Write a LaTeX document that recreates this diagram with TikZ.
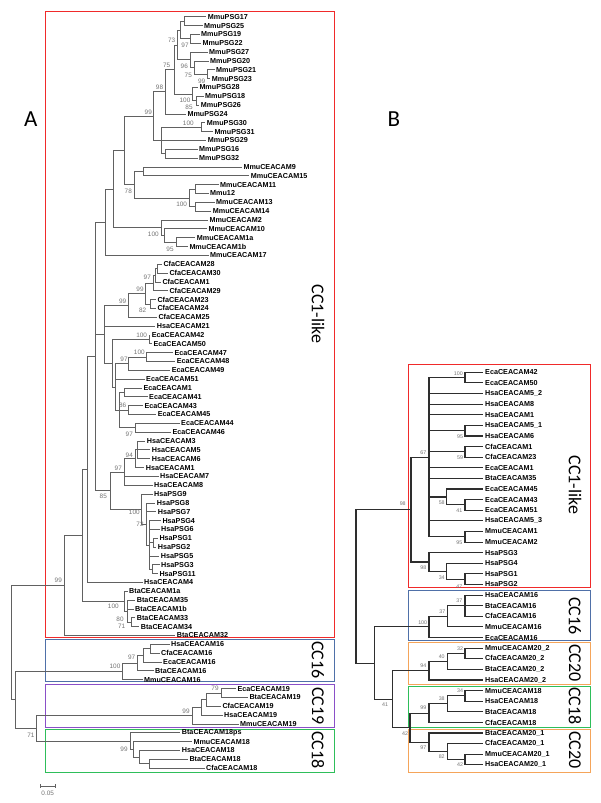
\documentclass[tikz,border=0pt]{standalone}
\usepackage{fontspec}
\setmainfont{Liberation Sans}
\newfontfamily\carl{Carlito}
\usetikzlibrary{calc}
\definecolor{bxred}{HTML}{F02A2A}
\definecolor{bxblue}{HTML}{4F70A8}
\definecolor{bxpurple}{HTML}{8A4FC8}
\definecolor{bxgreen}{HTML}{2EBE5A}
\definecolor{bxorange}{HTML}{F5A55A}
\tikzset{
  lfA/.style={anchor=west,inner xsep=1.5pt,inner ysep=0pt,font=\fontsize{7.2}{8}\selectfont\bfseries},
  lfB/.style={anchor=west,inner xsep=2pt,inner ysep=0pt,font=\fontsize{7.2}{8}\selectfont\bfseries},
  brA/.style={draw=black!62,line width=0.75pt},
  brB/.style={draw=black!82,line width=1.1pt},
  bsA/.style={inner sep=0pt,text=black!55,font=\fontsize{6.4}{7}\selectfont},
  bsB/.style={inner sep=0pt,text=black!55,font=\fontsize{5.3}{6}\selectfont},
  boxA/.style={line width=1pt},
  cclab/.style={rotate=-90,inner sep=0pt,font=\carl\fontsize{18}{20}\selectfont},
  panel/.style={inner sep=0pt,font=\carl\fontsize{23}{25}\selectfont}
}
\newcommand\lfa[4]{\node[lfA] (#1) at ({#3-1.5},{16.7+(#2-1)*8.84}) {#4};}
\newcommand\lfb[3]{\node[lfB] (#1) at (483,{372.3+(#2-1)*10.61}) {#3};}
\newcommand\inod[4]{\path let \p1=($(#3)!.5!(#4)$) in (#2pt,\y1) coordinate (#1);}
\newcommand\kida[2]{\foreach \q in {#2}{\draw[brA] (#1) |- (\q);}}
\newcommand\kidb[2]{\foreach \q in {#2}{\draw[brB] (#1) |- (\q);}}
\begin{document}
\begin{tikzpicture}[x=1pt,y=-1pt]
\useasboundingbox (0,0) rectangle (600,803);
% panel letters
\node[panel] (pA) at (30.8,119) {A};
\node[panel] (pB) at (394,119) {B};
% boxes A
\draw[boxA,bxred] (45.7,11.7) rectangle (334.3,637.3);
\draw[boxA,bxblue] (45.7,639) rectangle (334.3,681.7);
\draw[boxA,bxpurple] (45.7,684.3) rectangle (334.3,727.3);
\draw[boxA,bxgreen] (45.7,729.3) rectangle (334.3,772.3);
% boxes B
\draw[boxA,bxred] (408.3,364.3) rectangle (590,587.3);
\draw[boxA,bxblue] (408.3,590) rectangle (590,640.7);
\draw[boxA,bxorange] (408.3,642.7) rectangle (590,684);
\draw[boxA,bxgreen] (408.3,686.7) rectangle (590,727.3);
\draw[boxA,bxorange] (408.3,729) rectangle (590,772.7);
% clade labels
\node[cclab] (ccA1) at (318,314) {CC1-like};
\node[cclab] (ccA2) at (318,660) {CC16};
\node[cclab] (ccA3) at (318,706) {CC19};
\node[cclab] (ccA4) at (318,750) {CC18};
\node[cclab] (ccB1) at (575,485) {CC1-like};
\node[cclab] (ccB2) at (575,616) {CC16};
\node[cclab] (ccB3) at (575,663) {CC20};
\node[cclab] (ccB4) at (575,706) {CC18};
\node[cclab] (ccB5) at (575,750) {CC20};
% ---------- tree A leaves
\lfa{L1}{1}{207.7}{MmuPSG17}
\lfa{L2}{2}{204}{MmuPSG25}
\lfa{L3}{3}{201}{MmuPSG19}
\lfa{L4}{4}{202.3}{MmuPSG22}
\lfa{L5}{5}{209}{MmuPSG27}
\lfa{L6}{6}{210}{MmuPSG20}
\lfa{L7}{7}{216}{MmuPSG21}
\lfa{L8}{8}{211.7}{MmuPSG23}
\lfa{L9}{9}{199.3}{MmuPSG28}
\lfa{L10}{10}{205}{MmuPSG18}
\lfa{L11}{11}{200.7}{MmuPSG26}
\lfa{L12}{12}{187.3}{MmuPSG24}
\lfa{L13}{13}{206.7}{MmuPSG30}
\lfa{L14}{14}{214.3}{MmuPSG31}
\lfa{L15}{15}{207.7}{MmuPSG29}
\lfa{L16}{16}{199}{MmuPSG16}
\lfa{L17}{17}{199}{MmuPSG32}
\lfa{L18}{18}{243.3}{MmuCEACAM9}
\lfa{L19}{19}{250.7}{MmuCEACAM15}
\lfa{L20}{20}{220}{MmuCEACAM11}
\lfa{L21}{21}{210}{Mmu12}
\lfa{L22}{22}{216}{MmuCEACAM13}
\lfa{L23}{23}{212.7}{MmuCEACAM14}
\lfa{L24}{24}{209.3}{MmuCEACAM2}
\lfa{L25}{25}{208.3}{MmuCEACAM10}
\lfa{L26}{26}{196.7}{MmuCEACAM1a}
\lfa{L27}{27}{189.3}{MmuCEACAM1b}
\lfa{L28}{28}{210}{MmuCEACAM17}
\lfa{L29}{29}{163.3}{CfaCEACAM28}
\lfa{L30}{30}{169.3}{CfaCEACAM30}
\lfa{L31}{31}{162.3}{CfaCEACAM1}
\lfa{L32}{32}{169.3}{CfaCEACAM29}
\lfa{L33}{33}{157.3}{CfaCEACAM23}
\lfa{L34}{34}{157.3}{CfaCEACAM24}
\lfa{L35}{35}{158.3}{CfaCEACAM25}
\lfa{L36}{36}{156.7}{HsaCEACAM21}
\lfa{L37}{37}{151.7}{EcaCEACAM42}
\lfa{L38}{38}{153.3}{EcaCEACAM50}
\lfa{L39}{39}{174.3}{EcaCEACAM47}
\lfa{L40}{40}{176.7}{EcaCEACAM48}
\lfa{L41}{41}{171.7}{EcaCEACAM49}
\lfa{L42}{42}{146}{EcaCEACAM51}
\lfa{L43}{43}{143.3}{EcaCEACAM1}
\lfa{L44}{44}{149}{EcaCEACAM41}
\lfa{L45}{45}{144.3}{EcaCEACAM43}
\lfa{L46}{46}{157.7}{EcaCEACAM45}
\lfa{L47}{47}{181}{EcaCEACAM44}
\lfa{L48}{48}{172.3}{EcaCEACAM46}
\lfa{L49}{49}{146.7}{HsaCEACAM3}
\lfa{L50}{50}{151.7}{HsaCEACAM5}
\lfa{L51}{51}{151.7}{HsaCEACAM6}
\lfa{L52}{52}{145.7}{HsaCEACAM1}
\lfa{L53}{53}{160}{HsaCEACAM7}
\lfa{L54}{54}{154}{HsaCEACAM8}
\lfa{L55}{55}{154}{HsaPSG9}
\lfa{L56}{56}{156.7}{HsaPSG8}
\lfa{L57}{57}{157.7}{HsaPSG7}
\lfa{L58}{58}{162.3}{HsaPSG4}
\lfa{L59}{59}{161}{HsaPSG6}
\lfa{L60}{60}{159.3}{HsaPSG1}
\lfa{L61}{61}{157.7}{HsaPSG2}
\lfa{L62}{62}{160.7}{HsaPSG5}
\lfa{L63}{63}{161}{HsaPSG3}
\lfa{L64}{64}{159.3}{HsaPSG11}
\lfa{L65}{65}{144}{HsaCEACAM4}
\lfa{L66}{66}{129}{BtaCEACAM1a}
\lfa{L67}{67}{136.7}{BtaCEACAM35}
\lfa{L68}{68}{135}{BtaCEACAM1b}
\lfa{L69}{69}{136.7}{BtaCEACAM33}
\lfa{L70}{70}{140.7}{BtaCEACAM34}
\lfa{L71}{71}{176.7}{BtaCEACAM32}
\lfa{L72}{72}{171}{HsaCEACAM16}
\lfa{L73}{73}{161}{CfaCEACAM16}
\lfa{L74}{74}{163}{EcaCEACAM16}
\lfa{L75}{75}{155}{BtaCEACAM16}
\lfa{L76}{76}{144}{MmuCEACAM16}
\lfa{L77}{77}{237.3}{EcaCEACAM19}
\lfa{L78}{78}{249.3}{BtaCEACAM19}
\lfa{L79}{79}{222.3}{CfaCEACAM19}
\lfa{L80}{80}{224}{HsaCEACAM19}
\lfa{L81}{81}{240}{MmuCEACAM19}
\lfa{L82}{82}{181.7}{BtaCEACAM18ps}
\lfa{L83}{83}{193.3}{MmuCEACAM18}
\lfa{L84}{84}{181.7}{HsaCEACAM18}
\lfa{L85}{85}{189.3}{BtaCEACAM18}
\lfa{L86}{86}{206}{CfaCEACAM18}
% ---------- tree A internal nodes
\inod{a}{184.3}{L1}{L2}\kida{a}{L1,L2}
\inod{b}{190}{L3}{L4}\kida{b}{L3,L4}
\inod{c}{180}{a}{b}\kida{c}{a,b}
\inod{f}{207.3}{L7}{L8}\kida{f}{L7,L8}
\inod{e}{194.3}{L6}{f}\kida{e}{L6,f}
\inod{d}{190}{L5}{e}\kida{d}{L5,e}
\inod{g}{177}{c}{d}\kida{g}{c,d}
\inod{q}{196.7}{L10}{L11}\kida{q}{L10,L11}
\inod{p28}{192.3}{L9}{q}\kida{p28}{L9,q}
\inod{h}{174.3}{g}{p28}\kida{h}{g,p28}
\inod{i}{165.7}{h}{L12}\kida{i}{h,L12}
\inod{m}{201.7}{L13}{L14}\kida{m}{L13,L14}
\inod{n16}{165.7}{L16}{L17}\kida{n16}{L16,L17}
\inod{k}{161}{m}{n16}\kida{k}{m,L15,n16}
\inod{j}{153.3}{i}{k}\kida{j}{i,k}
\inod{n9}{143.3}{L18}{L19}\kida{n9}{L18,L19}
\inod{n11}{195}{L20}{L21}\kida{n11}{L20,L21}
\inod{n13}{195}{L22}{L23}\kida{n13}{L22,L23}
\inod{n11g}{189}{n11}{n13}\kida{n11g}{n11,n13}
\inod{n78}{134}{n9}{n11g}\kida{n78}{n9,n11g}
\inod{x124}{124}{j}{n78}\kida{x124}{j,n78}
\inod{n1a}{176.7}{L26}{L27}\kida{n1a}{L26,L27}
\inod{n10}{164.3}{L25}{n1a}\kida{n10}{L25,n1a}
\inod{n2}{161}{L24}{n10}\kida{n2}{L24,n10}
\inod{x113}{113.3}{x124}{n2}\kida{x113}{x124,n2}
\inod{Mmu}{105}{x113}{L28}\kida{Mmu}{x113,L28}
\inod{c28a}{157.3}{L29}{L30}\kida{c28a}{L29,L30}
\inod{c28}{155.7}{c28a}{L31}\kida{c28}{c28a,L31}
\inod{c29}{153.3}{c28}{L32}\kida{c29}{c28,L32}
\inod{c23}{150}{L33}{L34}\kida{c23}{L33,L34}
\inod{c145}{145}{c29}{c23}\kida{c145}{c29,c23}
\inod{Cfa}{128.3}{c145}{L35}\kida{Cfa}{c145,L35}
\inod{e42}{149.3}{L37}{L38}\kida{e42}{L37,L38}
\inod{e47}{146.7}{L39}{L40}\kida{e47}{L39,L40}
\inod{e49}{128.3}{e47}{L41}\kida{e49}{e47,L41}
\inod{e1}{124}{L43}{L44}\kida{e1}{L43,L44}
\inod{e43}{128.3}{L45}{L46}\kida{e43}{L45,L46}
\inod{e44}{135}{L47}{L48}\kida{e44}{L47,L48}
\inod{e119}{119}{e1}{e44}\kida{e119}{e1,e43,e44}
\inod{e51}{115}{e49}{e119}\kida{e51}{e49,L42,e119}
\inod{E}{112.3}{e42}{e51}\kida{E}{e42,e51}
\inod{X}{104}{Cfa}{E}\kida{X}{Cfa,L36,E}
\inod{h35}{137.7}{L49}{L51}\kida{h35}{L49,L50,L51}
\inod{h94}{135.7}{h35}{L52}\kida{h94}{h35,L52}
\inod{h97}{124}{h94}{L54}\kida{h97}{h94,L53,L54}
\inod{p12}{153.3}{L60}{L61}\kida{p12}{L60,L61}
\inod{p311}{152.3}{L63}{L64}\kida{p311}{L63,L64}
\inod{prest}{149.3}{L58}{p311}\kida{prest}{L58,L59,p12,L62,p311}
\inod{p72}{146.7}{L56}{prest}\kida{p72}{L56,L57,prest}
\inod{p100}{141.7}{L55}{p72}\kida{p100}{L55,p72}
\inod{hH}{110}{h97}{p100}\kida{hH}{h97,p100}
\inod{N95}{95.7}{Mmu}{hH}\kida{N95}{Mmu,X,hH}
\inod{n87}{87.3}{N95}{L65}\kida{n87}{N95,L65}
\inod{b3334}{131.7}{L69}{L70}\kida{b3334}{L69,L70}
\inod{b35}{127.3}{L67}{b3334}\kida{b35}{L67,L68,b3334}
\inod{Bta}{124}{L66}{b35}\kida{Bta}{L66,b35}
\inod{n82}{82.3}{n87}{Bta}\kida{n82}{n87,Bta}
\inod{n64}{64}{n82}{L71}\kida{n64}{n82,L71}
\inod{s1}{150}{L72}{L73}\kida{s1}{L72,L73}
\inod{s2}{143.3}{s1}{L74}\kida{s2}{s1,L74}
\inod{s3}{137.7}{s2}{L75}\kida{s3}{s2,L75}
\inod{CCa}{122.3}{s3}{L76}\kida{CCa}{s3,L76}
\inod{t1}{221.7}{L77}{L78}\kida{t1}{L77,L78}
\inod{t2}{206.7}{t1}{L79}\kida{t2}{t1,L79}
\inod{t3}{201.7}{t2}{L80}\kida{t3}{t2,L80}
\inod{CCb}{192.3}{t3}{L81}\kida{CCb}{t3,L81}
\inod{u1}{149.3}{L85}{L86}\kida{u1}{L85,L86}
\inod{u2}{139.3}{L84}{u1}\kida{u2}{L84,u1}
\inod{u3}{133.3}{L83}{u2}\kida{u3}{L83,u2}
\inod{CCc}{130.7}{L82}{u3}\kida{CCc}{L82,u3}
\inod{R3}{36.7}{CCb}{CCc}\kida{R3}{CCb,CCc}
\inod{R2}{15.7}{CCa}{R3}\kida{R2}{CCa,R3}
\inod{rA}{11.7}{n64}{R2}\kida{rA}{n64,R2}
% ---------- tree A bootstrap values
\node[bsA] (ba1) at (171.7,40.3) {73};
\node[bsA] (ba2) at (185,45.3) {97};
\node[bsA] (ba3) at (184.3,66.7) {96};
\node[bsA] (ba4) at (188.3,75) {75};
\node[bsA] (ba5) at (201.7,81) {99};
\node[bsA] (ba6) at (166.7,65.3) {75};
\node[bsA] (ba7) at (159.5,87) {98};
\node[bsA] (ba8) at (185,100) {100};
\node[bsA] (ba9) at (189,107.3) {85};
\node[bsA] (ba10) at (148.3,112.3) {99};
\node[bsA] (ba11) at (188.3,123) {100};
\node[bsA] (ba12) at (128.3,191) {78};
\node[bsA] (ba13) at (181.7,204.3) {100};
\node[bsA] (ba14) at (153.3,234.3) {100};
\node[bsA] (ba15) at (170,249) {95};
\node[bsA] (ba16) at (147.3,277.7) {97};
\node[bsA] (ba17) at (140,289.3) {99};
\node[bsA] (ba18) at (122.7,301) {99};
\node[bsA] (ba19) at (142.7,310.7) {82};
\node[bsA] (ba20) at (141.7,335.3) {100};
\node[bsA] (ba21) at (139.3,352.7) {100};
\node[bsA] (ba22) at (124,359) {97};
\node[bsA] (ba23) at (122.7,405.7) {86};
\node[bsA] (ba24) at (129.3,434.3) {97};
\node[bsA] (ba25) at (129.3,455) {94};
\node[bsA] (ba26) at (118.3,468.3) {97};
\node[bsA] (ba27) at (103.3,496) {85};
\node[bsA] (ba28) at (134.3,512.3) {100};
\node[bsA] (ba29) at (140,524) {72};
\node[bsA] (ba30) at (58.3,580) {99};
\node[bsA] (ba31) at (113.3,606) {100};
\node[bsA] (ba32) at (120,619.3) {80};
\node[bsA] (ba33) at (121.7,626.7) {71};
\node[bsA] (ba34) at (131.7,657.3) {97};
\node[bsA] (ba35) at (115,666.7) {100};
\node[bsA] (ba36) at (215,688.3) {79};
\node[bsA] (ba37) at (186,711) {99};
\node[bsA] (ba38) at (31,735) {71};
\node[bsA] (ba39) at (124,749.3) {99};
% scale bar
\coordinate (sbL) at (40,786);
\coordinate (sbR) at (55,786);
\draw[brA] (sbL) -- (sbR);
\draw[brA] ($(sbL)+(0,-1.8)$) -- ($(sbL)+(0,1.8)$);
\draw[brA] ($(sbR)+(0,-1.8)$) -- ($(sbR)+(0,1.8)$);
\node[bsA] (sbT) at (47.7,793.5) {0.05};
% ---------- tree B leaves
\lfb{M1}{1}{EcaCEACAM42}
\lfb{M2}{2}{EcaCEACAM50}
\lfb{M3}{3}{HsaCEACAM5\_2}
\lfb{M4}{4}{HsaCEACAM8}
\lfb{M5}{5}{HsaCEACAM1}
\lfb{M6}{6}{HsaCEACAM5\_1}
\lfb{M7}{7}{HsaCEACAM6}
\lfb{M8}{8}{CfaCEACAM1}
\lfb{M9}{9}{CfaCEACAM23}
\lfb{M10}{10}{EcaCEACAM1}
\lfb{M11}{11}{BtaCEACAM35}
\lfb{M12}{12}{EcaCEACAM45}
\lfb{M13}{13}{EcaCEACAM43}
\lfb{M14}{14}{EcaCEACAM51}
\lfb{M15}{15}{HsaCEACAM5\_3}
\lfb{M16}{16}{MmuCEACAM1}
\lfb{M17}{17}{MmuCEACAM2}
\lfb{M18}{18}{HsaPSG3}
\lfb{M19}{19}{HsaPSG4}
\lfb{M20}{20}{HsaPSG1}
\lfb{M21}{21}{HsaPSG2}
\lfb{M22}{22}{HsaCEACAM16}
\lfb{M23}{23}{BtaCEACAM16}
\lfb{M24}{24}{CfaCEACAM16}
\lfb{M25}{25}{MmuCEACAM16}
\lfb{M26}{26}{EcaCEACAM16}
\lfb{M27}{27}{MmuCEACAM20\_2}
\lfb{M28}{28}{CfaCEACAM20\_2}
\lfb{M29}{29}{BtaCEACAM20\_2}
\lfb{M30}{30}{HsaCEACAM20\_2}
\lfb{M31}{31}{MmuCEACAM18}
\lfb{M32}{32}{HsaCEACAM18}
\lfb{M33}{33}{BtaCEACAM18}
\lfb{M34}{34}{CfaCEACAM18}
\lfb{M35}{35}{BtaCEACAM20\_1}
\lfb{M36}{36}{CfaCEACAM20\_1}
\lfb{M37}{37}{MmuCEACAM20\_1}
\lfb{M38}{38}{HsaCEACAM20\_1}
% ---------- tree B internal nodes
\inod{v42}{465}{M1}{M2}\kidb{v42}{M1,M2}
\inod{v51}{465}{M6}{M7}\kidb{v51}{M6,M7}
\inod{vCfa}{465}{M8}{M9}\kidb{vCfa}{M8,M9}
\inod{v43}{465}{M13}{M14}\kidb{v43}{M13,M14}
\inod{v45}{446.7}{M12}{v43}\kidb{v45}{M12,v43}
\inod{vMmu}{465}{M16}{M17}\kidb{vMmu}{M16,M17}
\inod{vMain}{429}{v42}{vMmu}\kidb{vMain}{v42,M3,M4,M5,v51,vCfa,M10,M11,v45,M15,vMmu}
\inod{v12}{465}{M20}{M21}\kidb{v12}{M20,M21}
\inod{v34}{446.7}{M19}{v12}\kidb{v34}{M19,v12}
\inod{vPSG}{429}{M18}{v34}\kidb{vPSG}{M18,v34}
\inod{vCC1}{411}{vMain}{vPSG}\kidb{vCC1}{vMain,vPSG}
\inod{w37b}{465}{M22}{M24}\kidb{w37b}{M22,M23,M24}
\inod{w37}{447.3}{w37b}{M25}\kidb{w37}{w37b,M25}
\inod{wCC16}{429}{w37}{M26}\kidb{wCC16}{w37,M26}
\inod{w32}{465}{M27}{M28}\kidb{w32}{M27,M28}
\inod{w40}{447.3}{w32}{M29}\kidb{w40}{w32,M29}
\inod{w94}{429}{w40}{M30}\kidb{w94}{w40,M30}
\inod{w34}{465}{M31}{M32}\kidb{w34}{M31,M32}
\inod{w38}{447.3}{w34}{M33}\kidb{w38}{w34,M33}
\inod{w99}{429}{w38}{M34}\kidb{w99}{w38,M34}
\inod{w42}{465}{M37}{M38}\kidb{w42}{M37,M38}
\inod{w82}{447.3}{M36}{w42}\kidb{w82}{M36,w42}
\inod{w97}{429}{M35}{w82}\kidb{w97}{M35,w82}
\inod{W42}{410}{w99}{w97}\kidb{W42}{w99,w97}
\inod{W41}{392.3}{w94}{W42}\kidb{W41}{w94,W42}
\inod{WN}{374.3}{wCC16}{W41}\kidb{WN}{wCC16,W41}
\inod{rB}{356}{vCC1}{WN}\kidb{rB}{vCC1,WN}
% ---------- tree B bootstrap values
\node[bsB] (bb1) at (458.3,373.3) {100};
\node[bsB] (bb2) at (460,436.7) {95};
\node[bsB] (bb3) at (460,457.3) {59};
\node[bsB] (bb4) at (423.3,452.3) {67};
\node[bsB] (bb5) at (441.7,502.3) {58};
\node[bsB] (bb6) at (459.3,510.7) {41};
\node[bsB] (bb7) at (459.3,542.7) {95};
\node[bsB] (bb8) at (402.7,503.3) {98};
\node[bsB] (bb9) at (423.3,567.7) {98};
\node[bsB] (bb10) at (441.7,577.3) {34};
\node[bsB] (bb11) at (459.3,586.7) {47};
\node[bsB] (bb12) at (459.3,600.7) {37};
\node[bsB] (bb13) at (442.3,611.7) {37};
\node[bsB] (bb14) at (422.7,622.7) {100};
\node[bsB] (bb15) at (460,648.3) {32};
\node[bsB] (bb16) at (441.7,656.7) {40};
\node[bsB] (bb17) at (423.3,665.7) {94};
\node[bsB] (bb18) at (460,690.7) {34};
\node[bsB] (bb19) at (441.7,699) {38};
\node[bsB] (bb20) at (423.3,707.7) {99};
\node[bsB] (bb21) at (385,705) {41};
\node[bsB] (bb22) at (405,733.3) {42};
\node[bsB] (bb23) at (423.3,747.7) {97};
\node[bsB] (bb24) at (441.7,756.7) {82};
\node[bsB] (bb25) at (460,764.3) {42};
\end{tikzpicture}
\end{document}
